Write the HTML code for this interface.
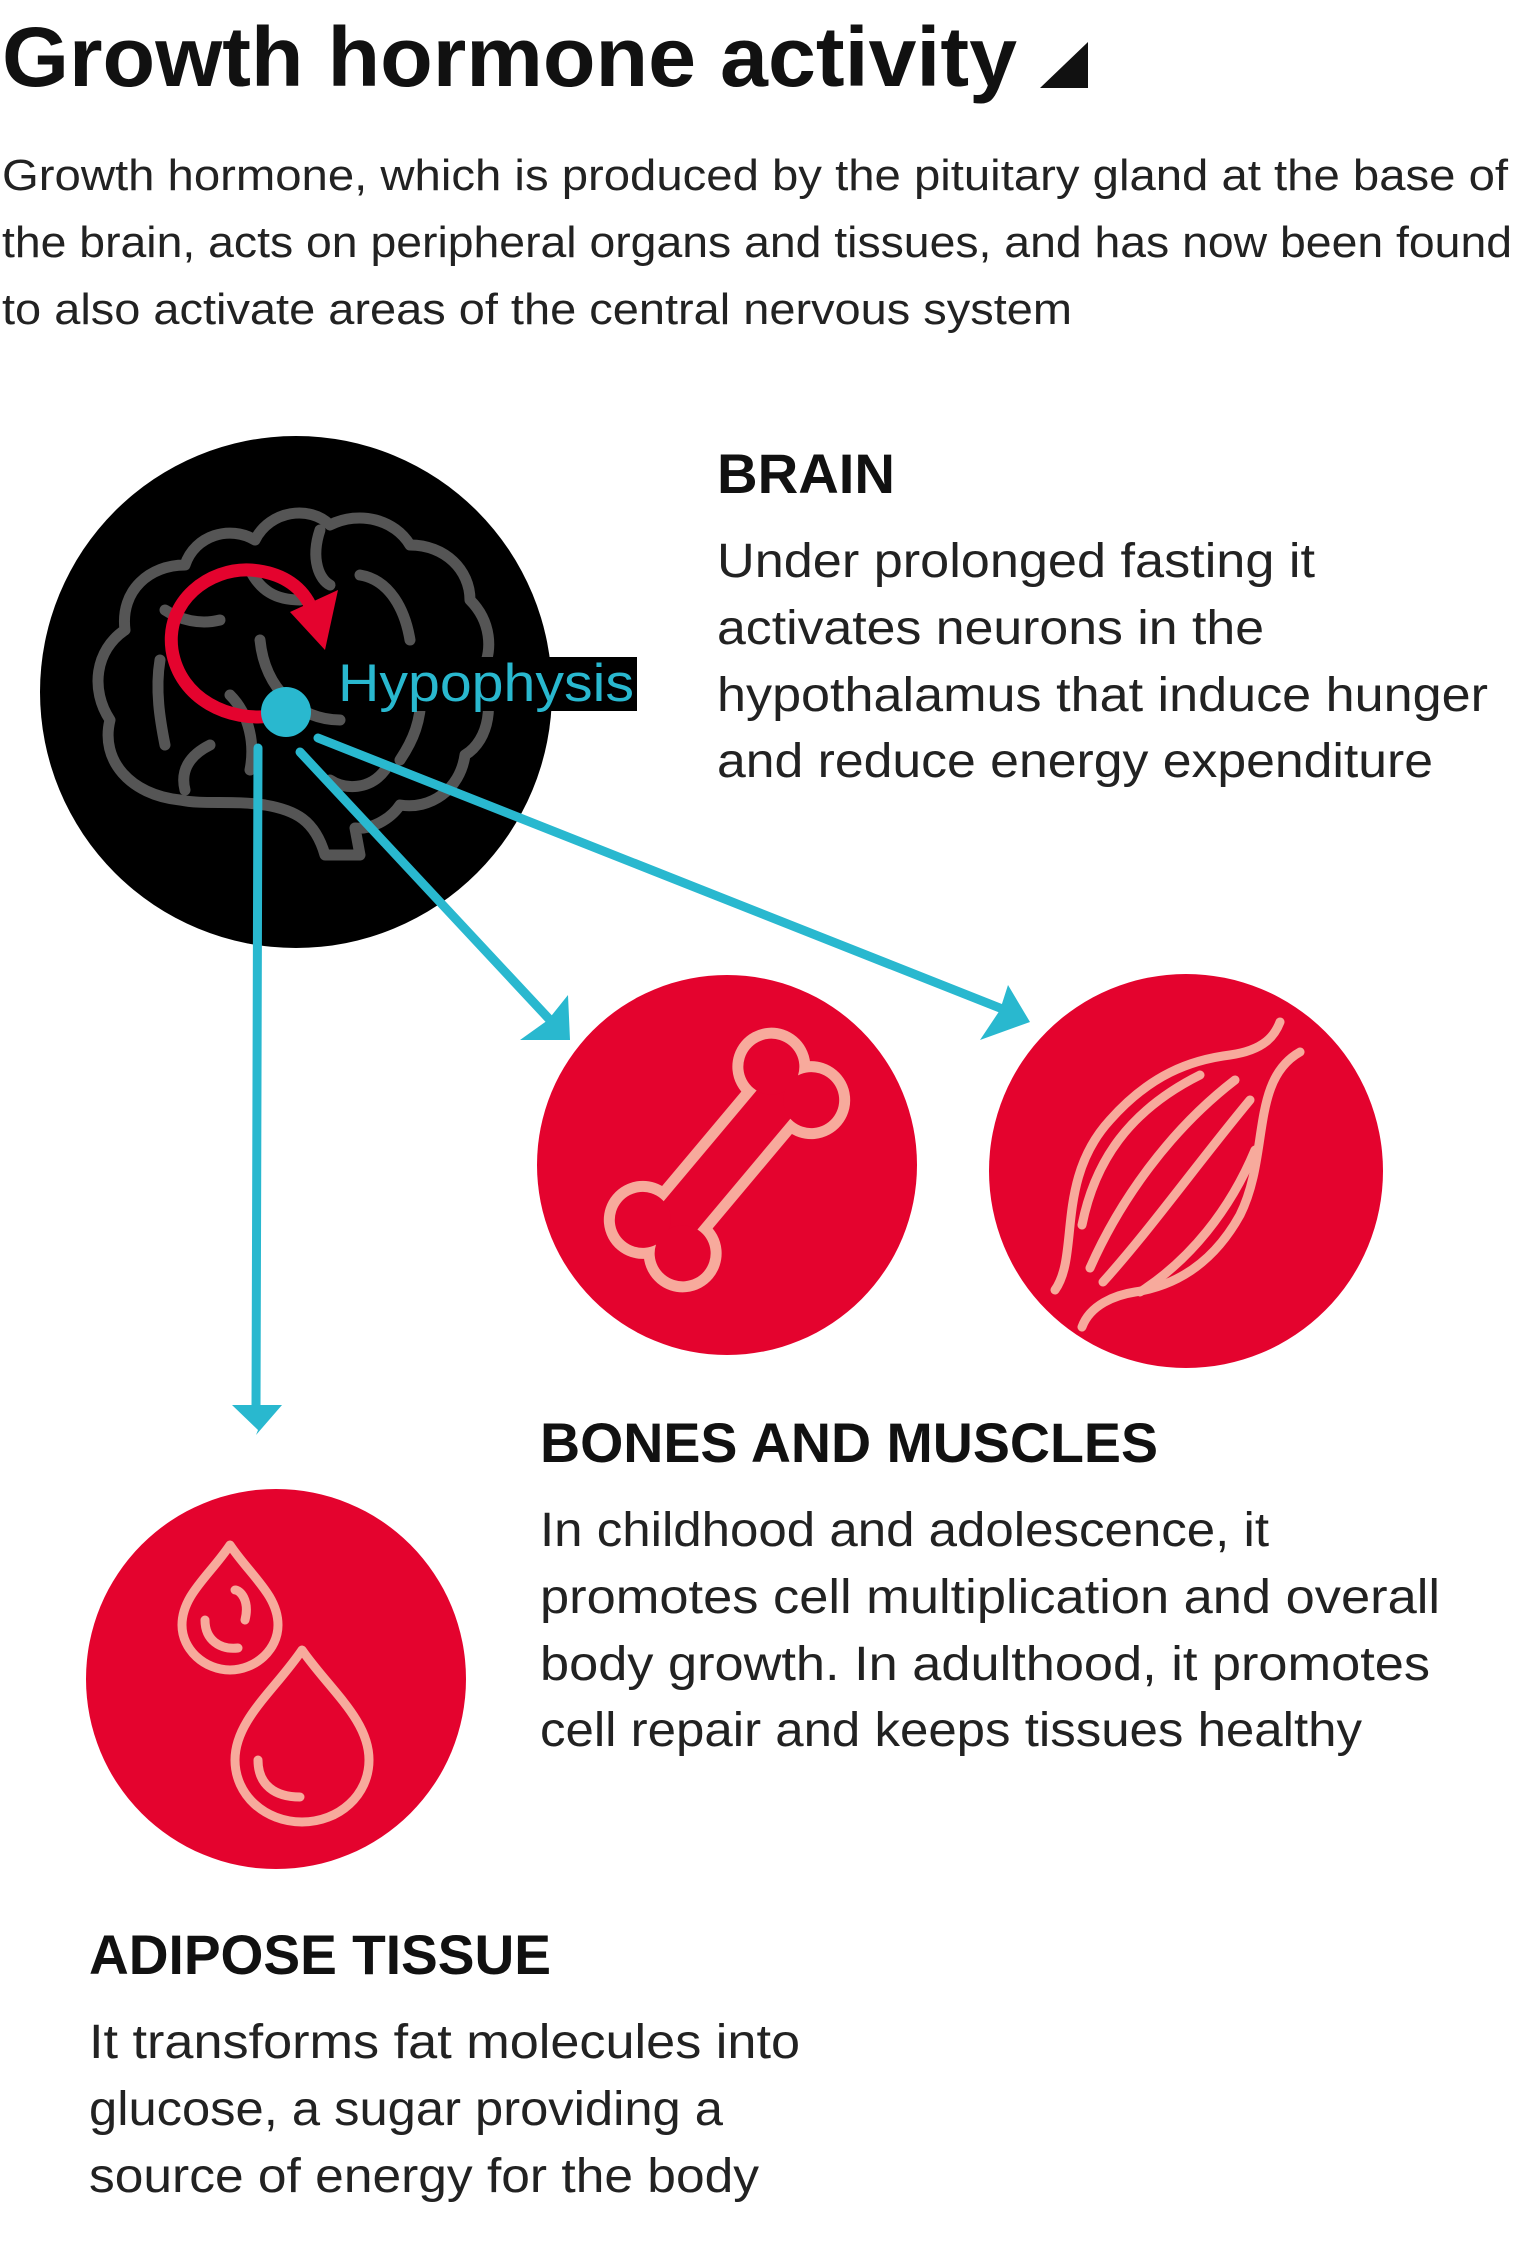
<!DOCTYPE html>
<html><head><meta charset="utf-8"><style>
html,body{margin:0;padding:0;background:#fff}
svg{display:block}
text{font-family:"Liberation Sans Narrow","Liberation Sans",sans-serif}
</style></head><body>
<svg width="1520" height="2260" viewBox="0 0 1520 2260" xmlns="http://www.w3.org/2000/svg">
<rect width="1520" height="2260" fill="#fff"/>
<text x="2" y="86" font-size="84" font-weight="bold" fill="#111" textLength="1015" lengthAdjust="spacingAndGlyphs">Growth hormone activity</text>
<polygon points="1040,88 1088,88 1088,42" fill="#111"/>
<g font-size="44" fill="#222">
<text x="2" y="190" textLength="1506" lengthAdjust="spacingAndGlyphs">Growth hormone, which is produced by the pituitary gland at the base of</text>
<text x="2" y="257" textLength="1510" lengthAdjust="spacingAndGlyphs">the brain, acts on peripheral organs and tissues, and has now been found</text>
<text x="2" y="324" textLength="1070" lengthAdjust="spacingAndGlyphs">to also activate areas of the central nervous system</text>
</g>
<circle cx="296" cy="692" r="256" fill="#000"/>
<g fill="none" stroke="#555" stroke-width="11" stroke-linecap="round" stroke-linejoin="round">
<path d="M180,800 C130,795 100,760 110,720 C90,690 95,650 125,630 C120,590 150,565 185,565 C195,535 230,525 255,540 C270,510 310,505 330,525 C360,510 395,520 410,545 C445,545 470,570 470,600 C490,620 495,650 480,675 C495,700 490,740 465,755 C460,790 430,810 400,805 C390,820 370,830 355,828 L360,855 L325,855 C315,820 295,810 265,805 C230,800 205,805 180,800 Z"/>
<path d="M165,610 C180,620 200,625 220,620"/>
<path d="M250,570 C260,590 275,600 300,600"/>
<path d="M320,530 C310,560 320,580 330,585"/>
<path d="M360,575 C390,580 405,610 410,640"/>
<path d="M260,640 C265,690 300,720 340,720"/>
<path d="M230,695 C250,715 255,745 250,770"/>
<path d="M160,660 C155,690 160,720 165,745"/>
<path d="M420,680 C425,720 410,745 400,760"/>
<path d="M210,745 C190,755 180,770 185,790"/>
<path d="M330,780 C345,790 370,790 385,770"/>
</g>
<path d="M272,716 C230,722 180,700 172,650 C165,600 210,568 250,570 C280,572 300,585 310,605" fill="none" stroke="#e4032e" stroke-width="13" stroke-linecap="round"/>
<polygon points="290,612 338,590 325,650" fill="#e4032e"/>
<g stroke="#29b8cf" stroke-width="9" stroke-linecap="round" fill="none">
<line x1="258" y1="748" x2="256" y2="1410"/>
<line x1="300" y1="752" x2="550" y2="1020"/>
<line x1="318" y1="738" x2="1010" y2="1012"/>
</g>
<g fill="#29b8cf">
<polygon points="232,1405 282,1405 256,1435 258,1430"/>
<polygon points="520,1040 570,1040 568,995 548,1020"/>
<polygon points="980,1040 1030,1022 1008,985 1000,1010"/>
</g>
<circle cx="286" cy="712" r="25" fill="#29b8cf"/>
<rect x="336" y="657" width="301" height="54" fill="#000"/>
<text x="338" y="701" font-size="53" fill="#29b8cf" textLength="296" lengthAdjust="spacingAndGlyphs">Hypophysis</text>
<text x="717" y="493" font-size="56" font-weight="bold" fill="#111" textLength="178" lengthAdjust="spacingAndGlyphs">BRAIN</text>
<g font-size="48" fill="#222">
<text x="717" y="577" textLength="598" lengthAdjust="spacingAndGlyphs">Under prolonged fasting it</text>
<text x="717" y="644" textLength="547" lengthAdjust="spacingAndGlyphs">activates neurons in the</text>
<text x="717" y="711" textLength="771" lengthAdjust="spacingAndGlyphs">hypothalamus that induce hunger</text>
<text x="717" y="777" textLength="716" lengthAdjust="spacingAndGlyphs">and reduce energy expenditure</text>
</g>
<circle cx="727" cy="1165" r="190" fill="#e4032e"/>
<g transform="translate(727,1160) rotate(-50)">
<g fill="#f7aa9c" stroke="#f7aa9c" stroke-width="22">
<rect x="-90" y="-22" width="180" height="44"/>
<circle cx="-100" cy="-26" r="28"/><circle cx="-100" cy="26" r="28"/>
<circle cx="100" cy="-26" r="28"/><circle cx="100" cy="26" r="28"/>
</g>
<g fill="#e4032e">
<rect x="-90" y="-22" width="180" height="44"/>
<circle cx="-100" cy="-26" r="28"/><circle cx="-100" cy="26" r="28"/>
<circle cx="100" cy="-26" r="28"/><circle cx="100" cy="26" r="28"/>
</g>
</g>
<circle cx="1186" cy="1171" r="197" fill="#e4032e"/>
<g fill="none" stroke="#f7aa9c" stroke-width="9" stroke-linecap="round">
<path d="M1055,1290 C1080,1255 1055,1180 1110,1120 C1150,1075 1190,1060 1230,1055 C1265,1050 1275,1035 1280,1022"/>
<path d="M1082,1327 C1090,1305 1115,1295 1135,1292 C1180,1285 1215,1260 1240,1215 C1270,1155 1250,1080 1300,1052"/>
<path d="M1082,1225 C1095,1160 1130,1110 1200,1075"/>
<path d="M1090,1268 C1120,1200 1170,1130 1235,1080"/>
<path d="M1103,1282 C1150,1230 1200,1160 1250,1100"/>
<path d="M1140,1292 C1190,1260 1230,1210 1255,1150"/>
</g>
<circle cx="276" cy="1679" r="190" fill="#e4032e"/>
<g fill="none" stroke="#f7aa9c" stroke-width="9" stroke-linecap="round" stroke-linejoin="round">
<path d="M230,1545 C210,1575 182,1595 182,1625 C182,1650 205,1670 230,1670 C255,1670 278,1650 278,1625 C278,1595 250,1575 230,1545 Z"/>
<path d="M205,1620 C205,1640 220,1650 238,1648 M245,1620 C250,1600 240,1590 235,1590"/>
<path d="M302,1650 C275,1690 235,1720 235,1760 C235,1795 265,1822 302,1822 C339,1822 369,1795 369,1760 C369,1720 330,1690 302,1650 Z"/>
<path d="M258,1760 C258,1785 275,1797 300,1797"/>
</g>
<text x="540" y="1462" font-size="56" font-weight="bold" fill="#111" textLength="618" lengthAdjust="spacingAndGlyphs">BONES AND MUSCLES</text>
<g font-size="48" fill="#222">
<text x="540" y="1546" textLength="729" lengthAdjust="spacingAndGlyphs">In childhood and adolescence, it</text>
<text x="540" y="1613" textLength="900" lengthAdjust="spacingAndGlyphs">promotes cell multiplication and overall</text>
<text x="540" y="1680" textLength="890" lengthAdjust="spacingAndGlyphs">body growth. In adulthood, it promotes</text>
<text x="540" y="1746" textLength="822" lengthAdjust="spacingAndGlyphs">cell repair and keeps tissues healthy</text>
</g>
<text x="89" y="1974" font-size="56" font-weight="bold" fill="#111" textLength="462" lengthAdjust="spacingAndGlyphs">ADIPOSE TISSUE</text>
<g font-size="48" fill="#222">
<text x="89" y="2058" textLength="711" lengthAdjust="spacingAndGlyphs">It transforms fat molecules into</text>
<text x="89" y="2125" textLength="634" lengthAdjust="spacingAndGlyphs">glucose, a sugar providing a</text>
<text x="89" y="2192" textLength="670" lengthAdjust="spacingAndGlyphs">source of energy for the body</text>
</g>
</svg>
</body></html>
